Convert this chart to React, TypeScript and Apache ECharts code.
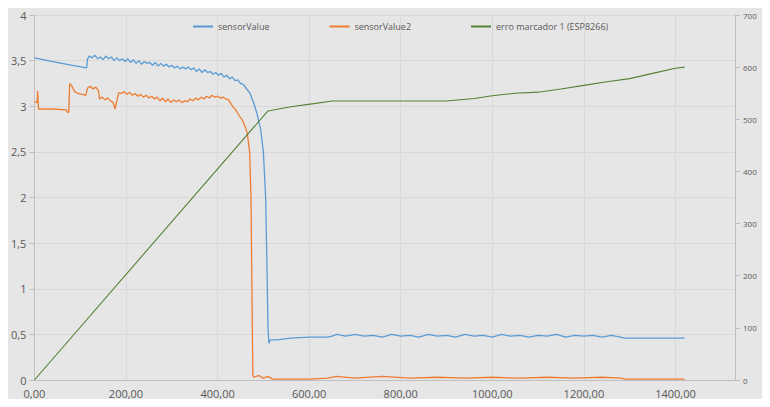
import { useEffect, useRef } from "react";
import * as echarts from "echarts";

const seriesNames = ["sensorValue", "sensorValue2", "erro marcador 1 (ESP8266)"];

const sensorValue: [number, number][] = [
  [0, 3.53], [40, 3.49], [80, 3.45], [114, 3.42], [116, 3.52], [120, 3.55], [126, 3.53],
  [132, 3.56], [138, 3.52], [144, 3.54], [150, 3.51], [156, 3.55], [162, 3.52], [168, 3.54],
  [174, 3.5], [180, 3.53], [186, 3.5], [192, 3.52], [198, 3.49], [204, 3.52], [210, 3.48],
  [216, 3.51], [222, 3.47], [228, 3.5], [234, 3.46], [240, 3.49], [246, 3.47], [252, 3.48],
  [258, 3.45], [264, 3.48], [270, 3.44], [276, 3.47], [282, 3.44], [288, 3.46], [294, 3.43],
  [300, 3.45], [306, 3.42], [312, 3.44], [318, 3.41], [324, 3.43], [330, 3.41], [336, 3.43],
  [342, 3.4], [348, 3.42], [354, 3.38], [360, 3.41], [366, 3.37], [372, 3.4], [378, 3.37],
  [384, 3.38], [390, 3.35], [396, 3.37], [402, 3.34], [408, 3.36], [414, 3.32], [420, 3.34],
  [426, 3.3], [432, 3.32], [438, 3.28], [444, 3.29], [450, 3.25], [456, 3.24], [462, 3.2],
  [470, 3.15], [478, 3.05], [486, 2.92], [494, 2.75], [500, 2.5], [505, 2.0], [508, 1.2],
  [510, 0.6], [512, 0.4], [515, 0.44], [530, 0.44], [560, 0.46], [600, 0.47], [640, 0.47],
  [650, 0.48], [660, 0.5], [680, 0.48], [700, 0.5], [720, 0.48], [740, 0.49], [760, 0.47],
  [780, 0.5], [800, 0.48], [820, 0.49], [840, 0.47], [860, 0.5], [880, 0.48], [900, 0.49],
  [920, 0.47], [940, 0.5], [960, 0.48], [980, 0.49], [1000, 0.47], [1020, 0.5], [1040, 0.48],
  [1060, 0.49], [1080, 0.47], [1100, 0.49], [1120, 0.48], [1140, 0.5], [1160, 0.47],
  [1180, 0.49], [1200, 0.48], [1220, 0.49], [1240, 0.47], [1260, 0.49], [1280, 0.47],
  [1290, 0.46], [1350, 0.46], [1420, 0.46],
];

const sensorValue2: [number, number][] = [
  [0, 3.05], [6, 3.04], [7, 3.17], [9, 2.97], [40, 2.97], [70, 2.96], [72, 2.93], [75, 2.94],
  [77, 3.25], [82, 3.22], [88, 3.16], [95, 3.14], [105, 3.13], [112, 3.12], [116, 3.2],
  [122, 3.22], [128, 3.19], [134, 3.21], [140, 3.17], [142, 3.08], [148, 3.1], [154, 3.07],
  [160, 3.09], [166, 3.06], [172, 3.04], [176, 2.97], [180, 3.06], [184, 3.15], [190, 3.14],
  [196, 3.16], [202, 3.13], [208, 3.15], [214, 3.12], [220, 3.14], [226, 3.11], [232, 3.13],
  [238, 3.1], [244, 3.12], [250, 3.09], [256, 3.11], [262, 3.08], [268, 3.1], [274, 3.06],
  [280, 3.09], [286, 3.05], [292, 3.08], [298, 3.04], [304, 3.07], [310, 3.05], [316, 3.07],
  [322, 3.04], [328, 3.06], [334, 3.05], [340, 3.08], [346, 3.06], [352, 3.09], [358, 3.07],
  [364, 3.1], [370, 3.08], [376, 3.11], [382, 3.09], [388, 3.12], [394, 3.1], [400, 3.11],
  [406, 3.09], [412, 3.1], [418, 3.08], [424, 3.07], [430, 3.02], [436, 2.98], [442, 2.94],
  [448, 2.89], [454, 2.85], [460, 2.78], [465, 2.7], [470, 2.5], [473, 2.0], [475, 1.0],
  [477, 0.05], [480, 0.03], [490, 0.05], [500, 0.02], [510, 0.04], [520, 0.01], [600, 0.01],
  [640, 0.02], [660, 0.04], [700, 0.02], [760, 0.04], [820, 0.02], [880, 0.03], [940, 0.02],
  [1000, 0.03], [1060, 0.02], [1120, 0.03], [1180, 0.02], [1240, 0.03], [1280, 0.02],
  [1290, 0.01], [1420, 0.01],
];

const erroMarcador: [number, number][] = [
  [0, 0], [510, 516], [560, 524], [610, 530], [650, 535], [700, 535], [800, 535], [900, 535],
  [960, 540], [1000, 545], [1050, 550], [1100, 552], [1150, 558], [1200, 565], [1250, 572],
  [1300, 578], [1350, 588], [1400, 598], [1420, 600],
];

const comma = (v: number, d: number) => v.toFixed(d).replace(".", ",");

const App = () => {
  const chartRef = useRef<HTMLDivElement>(null);

  useEffect(() => {
    if (!chartRef.current) return;
    const chart = echarts.init(chartRef.current, null, { renderer: "svg" });
    const axisLabel = { color: "#595959", fontSize: 11, fontFamily: "Open Sans" };
    chart.setOption({
      animation: false,
      backgroundColor: "#e6e6e6",
      textStyle: { fontFamily: "Open Sans" },
      grid: { left: 25, right: 27, top: 7, bottom: 19 },
      legend: {
        top: 9,
        left: 180,
        itemGap: 60,
        itemWidth: 20,
        itemHeight: 2,
        icon: "rect",
        textStyle: { color: "#595959", fontSize: 9 },
        data: seriesNames,
      },
      xAxis: {
        type: "value",
        min: 0,
        max: 1530,
        interval: 200,
        axisLine: { lineStyle: { color: "#bfbfbf" } },
        axisTick: { show: false },
        splitLine: { lineStyle: { color: "#d9d9d9" } },
        axisLabel: {
          ...axisLabel,
          showMaxLabel: false,
          formatter: (v: number) => comma(v, 2),
        },
      },
      yAxis: [
        {
          type: "value",
          min: 0,
          max: 4,
          interval: 0.5,
          axisLine: { show: true, lineStyle: { color: "#bfbfbf" } },
          splitLine: { lineStyle: { color: "#d9d9d9" } },
          axisLabel: {
            ...axisLabel,
            formatter: (v: number) => (Number.isInteger(v) ? String(v) : comma(v, 1)),
          },
        },
        {
          type: "value",
          min: 0,
          max: 700,
          interval: 100,
          axisLine: { show: true, lineStyle: { color: "#bfbfbf" } },
          splitLine: { show: false },
          axisLabel: { ...axisLabel, fontSize: 8 },
        },
      ],
      series: [
        {
          name: seriesNames[0],
          type: "line",
          data: sensorValue,
          showSymbol: false,
          lineStyle: { color: "#5b9bd5", width: 1.3 },
          itemStyle: { color: "#5b9bd5" },
        },
        {
          name: seriesNames[1],
          type: "line",
          data: sensorValue2,
          showSymbol: false,
          lineStyle: { color: "#ed7d31", width: 1.3 },
          itemStyle: { color: "#ed7d31" },
        },
        {
          name: seriesNames[2],
          type: "line",
          yAxisIndex: 1,
          data: erroMarcador,
          showSymbol: false,
          lineStyle: { color: "#548235", width: 1.1 },
          itemStyle: { color: "#548235" },
        },
      ],
    });
    return () => {
      chart.dispose();
    };
  }, []);

  return <div ref={chartRef} style={{ width: 754, height: 391 }} />;
};

export default App;
